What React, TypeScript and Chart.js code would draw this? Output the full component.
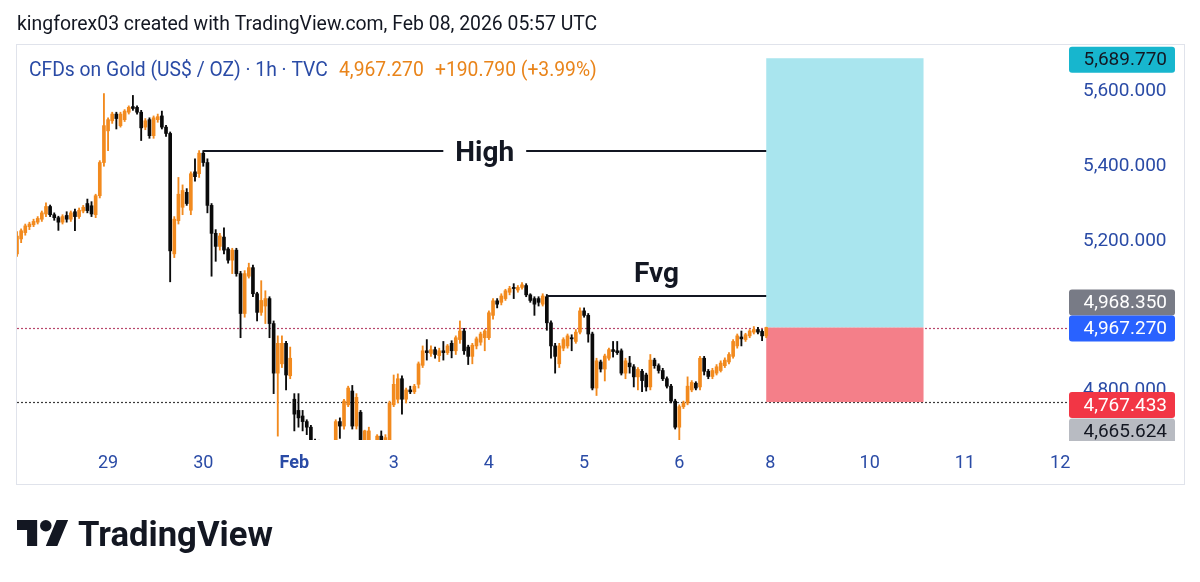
import React, { useEffect, useRef } from 'react';
import { Chart, registerables } from 'chart.js';

Chart.register(...registerables);

// ---------- data (hourly bars, index 0 = Jan 29 00:00) ----------
const FIRST_BAR = -22;
const OPEN = [
  5165, 5205, 5222, 5238, 5243, 5250, 5258, 5272, 5292, 5270,
  5262, 5250, 5268, 5258, 5278, 5265, 5280, 5300, 5294, 5270,
  5321, 5410, 5495, 5522, 5540, 5509, 5525, 5545, 5560, 5558,
  5545, 5505, 5525, 5482, 5525, 5535, 5505, 5488, 5165, 5254,
  5290, 5330, 5282, 5385, 5380, 5435, 5410, 5295, 5220, 5185,
  5210, 5178, 5148, 5175, 5112, 5005, 5105, 5128, 5058, 5008,
  5025, 5045, 4978, 4845, 4870, 4925, 4838, 4775, 4745, 4730,
  4715, 4700, 4650, 4620, 4600, 4560, 4520, 4600, 4715, 4703,
  4760, 4797, 4703, 4740, 4655, 4650, 4660, 4650, 4676, 4660,
  4665, 4760, 4775, 4830, 4775, 4800, 4795, 4815, 4866, 4905,
  4898, 4908, 4892, 4905, 4900, 4925, 4905, 4935, 4958, 4915,
  4890, 4918, 4928, 4940, 4940, 5000, 5039, 5035, 5045, 5062,
  5075, 5068, 5075, 5080, 5055, 5045, 5045, 5030, 5050, 4980,
  4918, 4870, 4912, 4918, 4940, 4930, 4955, 5012, 5000, 4950,
  4805, 4875, 4856, 4885, 4908, 4905, 4905, 4845, 4872, 4862,
  4835, 4850, 4840, 4808, 4880, 4865, 4852, 4830, 4810, 4770,
  4700, 4755, 4765, 4800, 4818, 4808, 4885, 4850, 4836, 4845,
  4852, 4865, 4875, 4890, 4918, 4942, 4935, 4945, 4955, 4962,
  4957, 4945,
];
const HIGH = [
  5225, 5232, 5245, 5250, 5258, 5265, 5280, 5302, 5296, 5275,
  5266, 5270, 5278, 5280, 5285, 5288, 5295, 5312, 5305, 5325,
  5415, 5595, 5530, 5545, 5545, 5545, 5552, 5562, 5590, 5562,
  5550, 5528, 5530, 5535, 5540, 5548, 5510, 5492, 5265, 5370,
  5350, 5340, 5385, 5420, 5442, 5442, 5420, 5300, 5230, 5220,
  5235, 5182, 5180, 5180, 5118, 5120, 5140, 5135, 5062, 5093,
  5066, 5050, 4985, 4945, 4945, 4930, 4915, 4790, 4790, 4745,
  4720, 4705, 4668, 4665, 4640, 4600, 4610, 4720, 4725, 4775,
  4810, 4812, 4790, 4745, 4692, 4700, 4662, 4680, 4690, 4680,
  4770, 4840, 4843, 4838, 4805, 4810, 4815, 4875, 4918, 4935,
  4918, 4915, 4912, 4930, 4922, 4932, 4945, 4985, 4965, 4920,
  4925, 4942, 4955, 4962, 5012, 5045, 5045, 5058, 5070, 5078,
  5085, 5080, 5088, 5085, 5058, 5050, 5050, 5058, 5056, 4985,
  4925, 4925, 4940, 4950, 4948, 4962, 5020, 5020, 5005, 4955,
  4885, 4880, 4896, 4912, 4930, 4930, 4910, 4885, 4890, 4868,
  4860, 4855, 4845, 4895, 4885, 4870, 4858, 4835, 4815, 4775,
  4760, 4770, 4835, 4825, 4822, 4890, 4890, 4855, 4858, 4868,
  4878, 4886, 4900, 4935, 4950, 4958, 4952, 4962, 4970, 4968,
  4962, 4968.35,
];
const LOW = [
  5158, 5195, 5215, 5230, 5238, 5245, 5252, 5265, 5265, 5255,
  5228, 5245, 5250, 5252, 5227, 5260, 5275, 5275, 5265, 5262,
  5315, 5400, 5442, 5515, 5500, 5505, 5520, 5540, 5550, 5540,
  5469, 5498, 5475, 5475, 5518, 5500, 5480, 5090, 5155, 5245,
  5270, 5295, 5270, 5360, 5370, 5400, 5275, 5105, 5145, 5175,
  5165, 5140, 5112, 5105, 4940, 4995, 5100, 5050, 4985, 5000,
  4978, 4940, 4790, 4676, 4860, 4800, 4830, 4690, 4700, 4690,
  4680, 4630, 4590, 4560, 4500, 4450, 4420, 4580, 4670, 4695,
  4755, 4695, 4695, 4630, 4640, 4630, 4620, 4640, 4645, 4640,
  4650, 4755, 4765, 4735, 4765, 4790, 4790, 4805, 4860, 4880,
  4890, 4885, 4876, 4880, 4895, 4886, 4895, 4925, 4895, 4868,
  4870, 4910, 4920, 4905, 4935, 4990, 5020, 5028, 5040, 5055,
  5045, 5062, 5070, 5050, 5035, 5000, 5025, 5025, 4960, 4885,
  4845, 4860, 4905, 4912, 4905, 4925, 4950, 4995, 4928, 4800,
  4785, 4848, 4824, 4880, 4888, 4895, 4840, 4830, 4845, 4808,
  4800, 4795, 4797, 4800, 4858, 4845, 4825, 4805, 4765, 4695,
  4666, 4750, 4760, 4795, 4800, 4800, 4840, 4830, 4830, 4840,
  4848, 4860, 4870, 4885, 4912, 4918, 4930, 4940, 4950, 4950,
  4932, 4940,
];
const CLOSE = [
  5213, 5227, 5240, 5245, 5252, 5260, 5275, 5292, 5270, 5262,
  5250, 5265, 5258, 5275, 5265, 5282, 5290, 5281, 5272, 5321,
  5410, 5509, 5525, 5540, 5528, 5540, 5548, 5558, 5555, 5545,
  5503, 5522, 5482, 5530, 5533, 5505, 5488, 5173, 5258, 5325,
  5335, 5300, 5380, 5372, 5435, 5410, 5295, 5220, 5185, 5213,
  5175, 5148, 5175, 5112, 5005, 5112, 5128, 5058, 5008, 5040,
  5045, 4978, 4845, 4925, 4925, 4840, 4885, 4735, 4725, 4715,
  4700, 4650, 4620, 4600, 4560, 4520, 4580, 4715, 4703, 4770,
  4805, 4703, 4780, 4663, 4690, 4690, 4640, 4676, 4660, 4672,
  4765, 4815, 4830, 4775, 4800, 4795, 4810, 4870, 4905, 4900,
  4908, 4895, 4905, 4900, 4918, 4905, 4940, 4958, 4905, 4890,
  4920, 4937, 4950, 4958, 5007, 5039, 5030, 5052, 5066, 5072,
  5072, 5075, 5082, 5055, 5040, 5030, 5035, 5052, 4980, 4918,
  4890, 4918, 4935, 4945, 4937, 4955, 5012, 5000, 4950, 4805,
  4878, 4856, 4891, 4908, 4903, 4900, 4845, 4878, 4862, 4835,
  4855, 4825, 4808, 4880, 4865, 4852, 4830, 4810, 4770, 4700,
  4755, 4765, 4810, 4820, 4805, 4885, 4850, 4836, 4852, 4862,
  4872, 4880, 4895, 4930, 4945, 4937, 4948, 4958, 4962, 4955,
  4945, 4967.27,
];

const TIME_TICKS = [0, 23, 45, 69, 92, 115, 138, 160, 184, 207, 230];
const TIME_LABELS = ['29', '30', 'Feb', '3', '4', '5', '6', '8', '10', '11', '12'];
const PRICE_TICKS = [4800, 5200, 5400, 5600];

const X_MIN = -22;
const X_MAX = 231.9;
const Y_MIN = 4665.624;
const Y_MAX = 5725.3;

const LAST_PRICE = 4967.27;
const CHANGE = 190.79;
const CHANGE_PCT = 3.99;
const LAST_HIGH = 4968.35;
const PANE_LOW = 4665.624;

const TARGET = 5689.77;
const ENTRY = 4967.27;
const STOP = 4767.433;
const POS_FROM = 159;
const POS_TO = 197;

const HIGH_LEVEL = 5440;
const HIGH_FROM = 23;
const HIGH_LABEL_AT = 91;
const FVG_LEVEL = 5052;
const FVG_FROM = 106;
const FVG_LABEL_AT = 132.5;
const LEVEL_TO = 159;

// ---------- styles ----------
const UP = '#F28A1E';
const DOWN = '#0A0A0A';
const AXIS_BLUE = '#2A4BA6';
const TEXT_DARK = '#131722';
const FONT = 'Roboto';

const fmt = (v: number) =>
  v.toLocaleString('en-US', { minimumFractionDigits: 3, maximumFractionDigits: 3 });

const overlayPlugin = {
  id: 'tvOverlay',
  beforeDatasetsDraw(chart: any) {
    const { ctx, chartArea: a, scales } = chart;
    const x = scales.x;
    const y = scales.y;
    ctx.save();
    ctx.beginPath();
    ctx.rect(a.left, a.top, a.right - a.left, a.bottom - a.top);
    ctx.clip();
    const dotted = (p: number, color: string) => {
      const yy = Math.round(y.getPixelForValue(p)) + 0.5;
      ctx.beginPath();
      ctx.setLineDash([2, 2]);
      ctx.strokeStyle = color;
      ctx.lineWidth = 1.2;
      ctx.moveTo(a.left, yy);
      ctx.lineTo(a.right, yy);
      ctx.stroke();
    };
    dotted(LAST_PRICE, '#B8476B');
    dotted(STOP, '#3A3A3A');
    ctx.setLineDash([]);
    const x0 = x.getPixelForValue(POS_FROM);
    const x1 = x.getPixelForValue(POS_TO);
    const yT = y.getPixelForValue(TARGET);
    const yE = y.getPixelForValue(ENTRY);
    const yS = y.getPixelForValue(STOP);
    ctx.fillStyle = '#A9E5EE';
    ctx.fillRect(x0, yT, x1 - x0, yE - yT);
    ctx.fillStyle = '#F47F89';
    ctx.fillRect(x0, yE, x1 - x0, yS - yE);
    ctx.restore();
  },
  afterDatasetsDraw(chart: any) {
    const { ctx, scales } = chart;
    const x = scales.x;
    const y = scales.y;
    ctx.save();
    ctx.strokeStyle = TEXT_DARK;
    ctx.fillStyle = TEXT_DARK;
    ctx.lineWidth = 2;
    ctx.font = `bold 28px ${FONT}`;
    ctx.textAlign = 'center';
    ctx.textBaseline = 'alphabetic';

    const hy = Math.round(y.getPixelForValue(HIGH_LEVEL));
    const hx0 = x.getPixelForValue(HIGH_FROM);
    const hx1 = x.getPixelForValue(LEVEL_TO);
    const hc = x.getPixelForValue(HIGH_LABEL_AT);
    const hw = ctx.measureText('High').width;
    ctx.beginPath();
    ctx.moveTo(hx0, hy);
    ctx.lineTo(hc - hw / 2 - 12, hy);
    ctx.moveTo(hc + hw / 2 + 12, hy);
    ctx.lineTo(hx1, hy);
    ctx.stroke();
    ctx.fillText('High', hc, hy + 10);

    const fy = Math.round(y.getPixelForValue(FVG_LEVEL));
    ctx.beginPath();
    ctx.moveTo(x.getPixelForValue(FVG_FROM), fy);
    ctx.lineTo(x.getPixelForValue(LEVEL_TO), fy);
    ctx.stroke();
    ctx.fillText('Fvg', x.getPixelForValue(FVG_LABEL_AT), fy - 14);
    ctx.restore();
  },
  afterDraw(chart: any) {
    const { ctx, scales } = chart;
    const y = scales.y;
    ctx.save();

    ctx.strokeStyle = '#E0E3EB';
    ctx.lineWidth = 1;
    ctx.strokeRect(16.5, 44.5, 1168, 440);

    ctx.textAlign = 'left';
    ctx.textBaseline = 'alphabetic';
    ctx.font = `19.4px ${FONT}`;
    ctx.fillStyle = TEXT_DARK;
    ctx.fillText('kingforex03 created with TradingView.com, Feb 08, 2026 05:57 UTC', 17, 29.5);

    ctx.font = `19.3px ${FONT}`;
    ctx.fillStyle = AXIS_BLUE;
    ctx.fillText('CFDs on Gold (US$ / OZ) · 1h · TVC', 29, 76);
    ctx.fillStyle = '#E9841A';
    ctx.fillText(fmt(LAST_PRICE), 339, 76);
    ctx.fillText(`+${fmt(CHANGE)} (+${CHANGE_PCT.toFixed(2)}%)`, 435, 76);

    ctx.beginPath();
    ctx.rect(1060, 40, 140, 401);
    ctx.clip();
    const tag = (yc: number, text: string, bg: string, fg: string) => {
      const h = 26;
      ctx.beginPath();
      (ctx as any).roundRect(1069, yc - h / 2, 106, h, 3);
      ctx.fillStyle = bg;
      ctx.fill();
      ctx.fillStyle = fg;
      ctx.font = `19px ${FONT}`;
      ctx.textAlign = 'right';
      ctx.textBaseline = 'middle';
      ctx.fillText(text, 1167, yc + 1);
    };
    const yE = y.getPixelForValue(ENTRY);
    tag(y.getPixelForValue(TARGET) + 1.5, fmt(TARGET), '#17B6CE', TEXT_DARK);
    tag(yE + 1 - 26, fmt(LAST_HIGH), '#787B86', '#FFFFFF');
    tag(yE + 1, fmt(ENTRY), '#2962FF', '#FFFFFF');
    tag(y.getPixelForValue(STOP) + 3, fmt(STOP), '#F23645', '#FFFFFF');
    tag(431.5, fmt(PANE_LOW), '#B8BBC2', TEXT_DARK);
    ctx.restore();

    ctx.save();
    ctx.translate(17, 514.2);
    ctx.scale(1.44, 1.44);
    ctx.fillStyle = TEXT_DARK;
    const p = new Path2D('M14 22H7V11H0V4h14v18zM28 22h-8l7.5-18h8L28 22z');
    ctx.fill(p);
    ctx.beginPath();
    ctx.arc(20, 8, 4, 0, Math.PI * 2);
    ctx.fill();
    ctx.restore();

    ctx.save();
    ctx.fillStyle = TEXT_DARK;
    ctx.font = `bold 100px ${FONT}`;
    const w = ctx.measureText('TradingView').width;
    const size = (100 * 195) / w;
    ctx.font = `bold ${size}px ${FONT}`;
    ctx.textAlign = 'left';
    ctx.textBaseline = 'alphabetic';
    ctx.fillText('TradingView', 78, 546);
    ctx.restore();
  },
};

export default function App() {
  const ref = useRef<HTMLCanvasElement | null>(null);

  useEffect(() => {
    if (!ref.current) return;
    const colors = OPEN.map((o, k) => (CLOSE[k] >= o ? UP : DOWN));
    const bodies = OPEN.map((o, k) => ({ x: FIRST_BAR + k, y: [o, CLOSE[k]] }));
    const wicks = LOW.map((l, k) => ({ x: FIRST_BAR + k, y: [l, HIGH[k]] }));

    const chart = new Chart(ref.current, {
      type: 'bar',
      data: {
        datasets: [
          {
            label: 'body',
            data: bodies as any,
            backgroundColor: colors,
            borderWidth: 0,
            barThickness: 3,
            minBarLength: 1,
            grouped: false,
            clip: 0,
            order: 0,
          } as any,
          {
            label: 'wick',
            data: wicks as any,
            backgroundColor: colors,
            borderWidth: 0,
            barThickness: 1.2,
            grouped: false,
            clip: 0,
            order: 1,
          } as any,
        ],
      },
      options: {
        animation: false,
        responsive: false,
        devicePixelRatio: 1,
        layout: { padding: { left: 17, top: 45, right: 15, bottom: 97 } },
        plugins: { legend: { display: false }, tooltip: { enabled: false }, title: { display: false } },
        scales: {
          x: {
            type: 'linear',
            min: X_MIN,
            max: X_MAX,
            offset: false,
            grid: { display: false, drawTicks: false },
            border: { display: false },
            afterBuildTicks: (s: any) => {
              s.ticks = TIME_TICKS.map((v) => ({ value: v }));
            },
            afterFit: (s: any) => {
              s.height = 45;
            },
            ticks: {
              autoSkip: false,
              maxRotation: 0,
              padding: 13,
              color: AXIS_BLUE,
              font: (c: any) => ({
                family: FONT,
                size: 18,
                weight: c.tick && c.tick.value === 45 ? 'bold' : 'normal',
              }),
              callback: (v: any) => {
                const i = TIME_TICKS.indexOf(Number(v));
                return i >= 0 ? TIME_LABELS[i] : '';
              },
            },
          },
          y: {
            type: 'linear',
            position: 'right',
            min: Y_MIN,
            max: Y_MAX,
            grid: { display: false, drawTicks: false },
            border: { display: false },
            afterBuildTicks: (s: any) => {
              s.ticks = PRICE_TICKS.map((v) => ({ value: v }));
            },
            afterFit: (s: any) => {
              s.width = 117;
            },
            ticks: {
              padding: 15,
              crossAlign: 'near',
              color: AXIS_BLUE,
              font: { family: FONT, size: 19 },
              callback: (v: any) => fmt(Number(v)),
            },
          },
        },
      } as any,
      plugins: [overlayPlugin],
    });
    return () => chart.destroy();
  }, []);

  return (
    <div style={{ position: 'fixed', left: 0, top: 0, width: 1200, height: 582, background: '#ffffff' }}>
      <canvas ref={ref} width={1200} height={582} style={{ display: 'block', width: 1200, height: 582 }} />
    </div>
  );
}
